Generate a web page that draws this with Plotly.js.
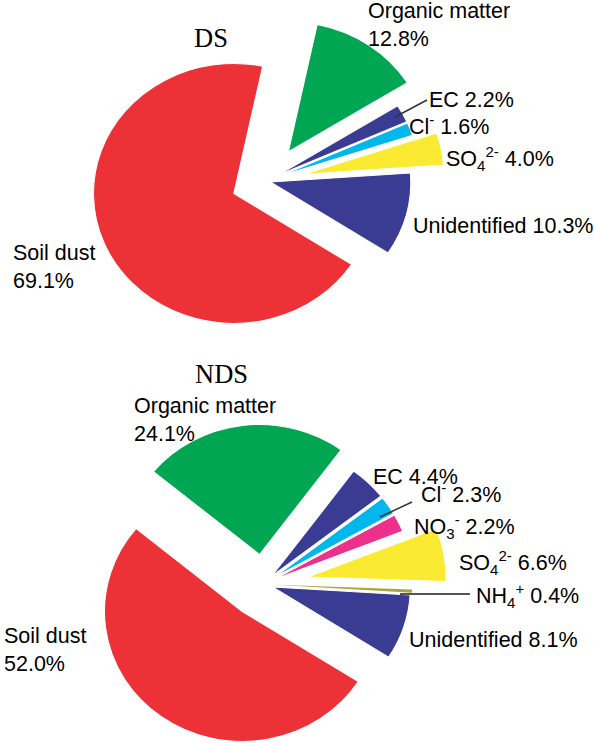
<!DOCTYPE html>
<html>
<head>
<meta charset="utf-8">
<script src="https://cdn.plot.ly/plotly-3.0.1.min.js"></script>
<style>
html,body{margin:0;padding:0;overflow:hidden;background:#fff;}
#wrap{width:594px;height:743px;overflow:hidden;position:relative;}
#plot{width:594px;height:800px;}
</style>
</head>
<body>
<div id="wrap"><div id="plot"></div></div>
<script>
// ---------------- DATA ----------------
const dsTitle = 'DS';
const dsComponents = ['Unidentified', 'Soil dust', 'Organic matter', 'EC', 'Cl<sup>-</sup>', 'SO<sub>4</sub><sup>2-</sup>'];
const dsValues = [10.3, 69.1, 12.8, 2.2, 1.6, 4.0];

const ndsTitle = 'NDS';
const ndsComponents = ['Unidentified', 'Soil dust', 'Organic matter', 'EC', 'Cl<sup>-</sup>', 'NO<sub>3</sub><sup>-</sup>', 'SO<sub>4</sub><sup>2-</sup>', 'NH<sub>4</sub><sup>+</sup>'];
const ndsValues = [8.1, 52.0, 24.1, 4.4, 2.3, 2.2, 6.6, 0.4];

// ---------------- STYLE ----------------
const W = 594, H = 800;
const colorOf = {
  'Unidentified': '#3A3B92',
  'Soil dust': '#ED3237',
  'Organic matter': '#00A651',
  'EC': '#3A3B92',
  'Cl<sup>-</sup>': '#00B7EB',
  'NO<sub>3</sub><sup>-</sup>': '#EC308C',
  'SO<sub>4</sub><sup>2-</sup>': '#FAEB32',
  'NH<sub>4</sub><sup>+</sup>': '#A8A83A'
};
const twoLine = {'Soil dust': true, 'Organic matter': true};

const dsPull = [0.03, 0.25, 0.275, 0.1, 0.1, 0.27];
const ndsPull = [0.07, 0.26, 0.23, 0.09, 0.09, 0.09, 0.33, 0.08];

// pie geometry: centre px, radius px, rotation, horizontal aspect
const dsGeom = {cx: 266.3, cy: 181, r: 130, rot: 86, sx: 1.08};
const ndsGeom = {cx: 263.4, cy: 584.2, r: 130, rot: 93.5, sx: 1.06};

// label anchor: [left x px, first-line baseline px]
const dsLabelPos = [[412, 233], [12, 260], [367, 18], [428, 107], [408, 132], [445, 166]];
const ndsLabelPos = [[408, 647], [3, 643], [133, 413], [372, 484], [420, 500], [413, 534], [458, 570], [475, 603]];
const titlePos = {ds: [210.5, 46.5], nds: [221.5, 383]};
// leader lines [x0,y0,x1,y1] px
const leaders = [[395, 117, 427, 100], [380, 517, 412, 502], [400, 594, 470, 594]];

const FS = 21.5;
const TFS = 26.5;
const sansFont = '"Liberation Sans", Arial, sans-serif';
const serifFont = '"Liberation Serif", "Times New Roman", serif';

function px2x(x) { return x / W; }
function px2y(y) { return 1 - y / H; }

function pieTrace(components, values, pull, g) {
  const maxPull = Math.max.apply(null, pull);
  const half = g.r * (1 + maxPull);
  return {
    type: 'pie',
    labels: components,
    values: values,
    sort: false,
    direction: 'clockwise',
    rotation: g.rot,
    pull: pull,
    textinfo: 'none',
    hoverinfo: 'label+percent',
    showlegend: false,
    marker: {
      colors: components.map(c => colorOf[c]),
      line: {color: '#ffffff', width: components.map(c => c.indexOf('NH') === 0 ? 0 : 1)}
    },
    domain: {
      x: [px2x(g.cx - half), px2x(g.cx + half)],
      y: [px2y(g.cy + half), px2y(g.cy - half)]
    }
  };
}

function labelAnnotations(components, values, pos) {
  return components.map((c, i) => {
    const tl = twoLine[c];
    const text = c + (tl ? '<br>' : ' ') + values[i].toFixed(1) + '%';
    const b = pos[i][1];
    const center = tl ? (b + b + FS * 1.3) / 2 - 0.3465 * FS : b - 0.3465 * FS;
    return {
      xref: 'paper', yref: 'paper',
      x: px2x(pos[i][0] - 1), y: px2y(center),
      xanchor: 'left', yanchor: 'middle', align: 'left',
      showarrow: false, text: text,
      font: {family: sansFont, size: FS, color: '#000'}
    };
  });
}

function titleAnnotation(text, p) {
  return {
    xref: 'paper', yref: 'paper',
    x: px2x(p[0]), y: px2y(p[1] - 0.3375 * TFS),
    xanchor: 'center', yanchor: 'middle', showarrow: false,
    text: text, font: {family: serifFont, size: TFS, color: '#000'}
  };
}

const geoms = [dsGeom, ndsGeom];
const traces = [
  pieTrace(dsComponents, dsValues, dsPull, dsGeom),
  pieTrace(ndsComponents, ndsValues, ndsPull, ndsGeom)
];

const annotations = []
  .concat([titleAnnotation(dsTitle, titlePos.ds), titleAnnotation(ndsTitle, titlePos.nds)])
  .concat(labelAnnotations(dsComponents, dsValues, dsLabelPos))
  .concat(labelAnnotations(ndsComponents, ndsValues, ndsLabelPos));

const shapes = leaders.map((l, i) => ({
  type: 'line', xref: 'paper', yref: 'paper',
  x0: px2x(l[0]), y0: px2y(l[1]), x1: px2x(l[2]), y1: px2y(l[3]),
  line: {color: i === 2 ? '#555555' : '#333333', width: i === 2 ? 2 : 1.5}
}));

const layout = {
  width: W, height: H,
  margin: {l: 0, r: 0, t: 0, b: 0},
  paper_bgcolor: '#ffffff',
  plot_bgcolor: '#ffffff',
  showlegend: false,
  annotations: annotations,
  shapes: shapes,
  font: {family: sansFont}
};

Plotly.newPlot('plot', traces, layout, {displayModeBar: false, staticPlot: true}).then(function (gd) {
  // the original figure is slightly stretched horizontally: apply the same aspect to each pie
  const groups = gd.querySelectorAll('.pielayer g.trace');
  groups.forEach(function (grp, i) {
    const g = geoms[i];
    if (!g) return;
    grp.setAttribute('transform',
      'translate(' + g.cx + ',0) scale(' + g.sx + ',1) translate(' + (-g.cx) + ',0)');
  });
});
</script>
</body>
</html>
